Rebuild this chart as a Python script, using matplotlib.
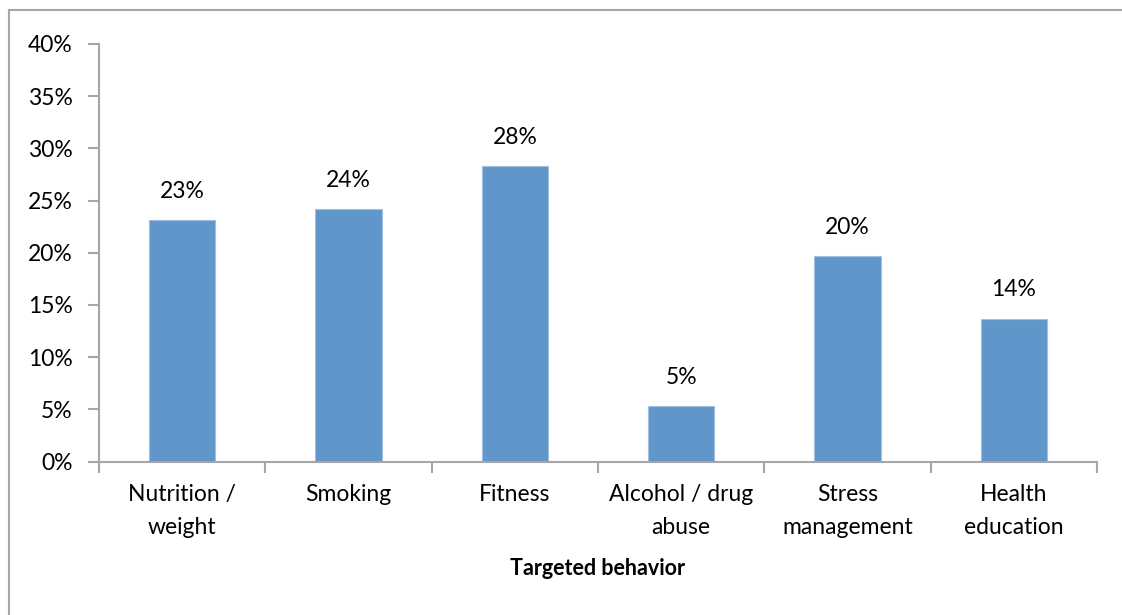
import matplotlib.pyplot as plt
from matplotlib.lines import Line2D
import numpy as np

# Datos
categories = ["Nutrition /\nweight", "Smoking", "Fitness",
              "Alcohol / drug\nabuse", "Stress\nmanagement", "Health\neducation"]
values = [23.1, 24.2, 28.3, 5.3, 19.7, 13.7]
labels = ["23%", "24%", "28%", "5%", "20%", "14%"]
yticks = [0, 5, 10, 15, 20, 25, 30, 35, 40]

plt.rcParams["font.family"] = ["Lato", "DejaVu Sans"]
GRAY = "#a6a6a6"
FS = 16.5

fig = plt.figure(figsize=(11.22, 6.15), dpi=100)
ax = fig.add_axes([99 / 1122, 1 - 461.5 / 615, 998 / 1122, 417.5 / 615])

x = np.arange(len(categories))
ax.bar(x, values, width=0.4, color="#6096c9", edgecolor="#9fc0e0", linewidth=0.8)

for xi, v, lab in zip(x, values, labels):
    ax.annotate(lab, (xi, v), xytext=(0, 13), textcoords="offset points",
                ha="center", va="bottom", fontsize=FS)

ax.set_xlim(-0.5, len(categories) - 0.5)
ax.set_ylim(0, 40)
ax.set_yticks(yticks)
ax.set_yticklabels([f"{t}%" for t in yticks], fontsize=FS)

# ticks del eje x en los limites entre categorias
ax.set_xticks(np.arange(-0.5, len(categories), 1.0))
ax.set_xticklabels([])
ax.set_xticks(x, minor=True)
ax.set_xticklabels(categories, minor=True, fontsize=FS, linespacing=1.75)
ax.tick_params(axis="x", which="minor", length=0, pad=16)
ax.tick_params(axis="x", which="major", length=8, width=1.5, color=GRAY, direction="out")
ax.tick_params(axis="y", length=8, width=1.5, color=GRAY, direction="out", pad=11)

for side in ["top", "right"]:
    ax.spines[side].set_visible(False)
for side in ["left", "bottom"]:
    ax.spines[side].set_color(GRAY)
    ax.spines[side].set_linewidth(1.5)

ax.set_xlabel("Targeted behavior", fontsize=15.5, fontweight="bold", labelpad=14)

# borde exterior del grafico
fig.add_artist(Line2D([9 / 1122, 1.0], [1 - 9.5 / 615] * 2, color=GRAY, lw=1.5))
fig.add_artist(Line2D([9 / 1122] * 2, [0.0, 1 - 9.5 / 615], color=GRAY, lw=1.5))

fig.savefig("out.png", dpi=100)
